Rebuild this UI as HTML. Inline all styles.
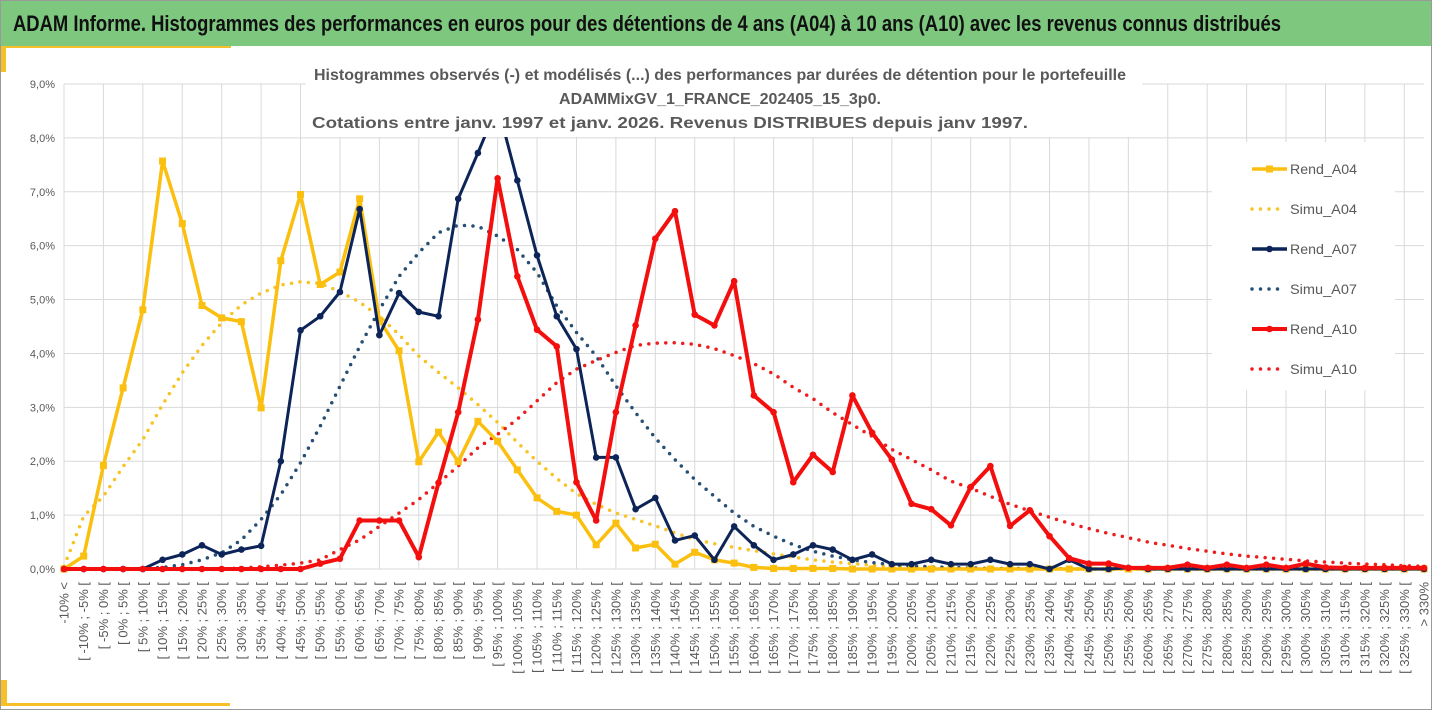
<!DOCTYPE html>
<html><head><meta charset="utf-8"><style>
html,body{margin:0;padding:0;background:#fff;}
svg{display:block;font-family:"Liberation Sans",sans-serif;}
</style></head><body>
<svg id="chart" width="1432" height="710" viewBox="0 0 1432 710" xmlns="http://www.w3.org/2000/svg">
<rect x="0.5" y="0.5" width="1431" height="709" fill="#fff" stroke="#9a9a9a"/>
<rect x="1" y="1" width="1430" height="45" fill="#7dc77f"/>
<text x="13" y="31" font-size="22" font-weight="bold" fill="#111" textLength="1268" lengthAdjust="spacingAndGlyphs">ADAM Informe. Histogrammes des performances en euros pour des détentions de 4 ans (A04) à 10 ans (A10) avec les revenus connus distribués</text>
<rect x="1" y="46" width="230" height="2" fill="#f5c02a"/>
<rect x="1" y="46" width="5" height="26" fill="#f5c02a"/>
<rect x="1" y="680" width="6" height="26" fill="#f5c02a"/>
<rect x="1" y="703" width="229" height="3" fill="#f5c02a"/>
<g id="grid"></g>
<g id="yaxis"></g>
<g id="xaxis"></g>
<g id="series"></g>
<g>
<rect x="306" y="60" width="836" height="77" fill="#fff"/>
<text x="720" y="80" font-size="16" font-weight="bold" fill="#595959" text-anchor="middle" textLength="812" lengthAdjust="spacingAndGlyphs">Histogrammes observés (-) et modélisés (...) des performances par durées de détention pour le portefeuille</text>
<text x="720" y="104" font-size="16" font-weight="bold" fill="#595959" text-anchor="middle" textLength="322" lengthAdjust="spacingAndGlyphs">ADAMMixGV_1_FRANCE_202405_15_3p0.</text>
<text x="670" y="128" font-size="16" font-weight="bold" fill="#595959" text-anchor="middle" textLength="716" lengthAdjust="spacingAndGlyphs">Cotations entre janv. 1997 et janv. 2026. Revenus DISTRIBUES depuis janv 1997.</text>
</g>
<g id="legend">
<rect x="1212" y="142" width="183" height="248" fill="#fff"/>
</g>
</svg>
<script>
const categoryStarts = [];
for (let s = -10; s <= 325; s += 5) categoryStarts.push(s);
const categories = ["-10% <"].concat(categoryStarts.map(s => "[ " + s + "% ; " + (s + 5) + "% [")).concat(["> 330%"]);
const yTicks = [0,1,2,3,4,5,6,7,8,9];
const yTickLabels = ["0,0%","1,0%","2,0%","3,0%","4,0%","5,0%","6,0%","7,0%","8,0%","9,0%"];

const rendA04 = [0,0.24,1.92,3.36,4.81,7.57,6.41,4.89,4.66,4.59,2.99,5.72,6.95,5.28,5.51,6.87,4.62,4.05,1.99,2.54,1.99,2.74,2.37,1.84,1.32,1.07,1.0,0.45,0.85,0.39,0.46,0.09,0.31,0.17,0.11,0.03,0.01,0.01,0.01,0.01,0,0,0,0,0,0,0,0,0,0,0,0,0,0,0,0,0,0,0,0,0,0,0,0,0,0,0,0,0,0];
const simuA04 = [0.05,0.98,1.35,1.9,2.4,3.05,3.64,4.15,4.57,4.9,5.12,5.27,5.33,5.3,5.15,4.95,4.69,4.35,3.95,3.65,3.36,3.05,2.72,2.35,2.0,1.68,1.4,1.2,1.04,0.92,0.8,0.67,0.55,0.47,0.4,0.34,0.28,0.22,0.17,0.13,0.1,0.07,0.05,0.04,0.03,0.02,0.01,0.01,0.01,0.01,0,0,0,0,0,0,0,0,0,0,0,0,0,0,0,0,0,0,0,0];
const rendA07 = [0,0,0,0,0,0.17,0.27,0.44,0.27,0.36,0.43,2.0,4.43,4.69,5.14,6.68,4.34,5.12,4.77,4.69,6.87,7.72,8.6,7.21,5.82,4.69,4.08,2.07,2.07,1.11,1.32,0.53,0.62,0.17,0.79,0.44,0.17,0.27,0.44,0.36,0.17,0.27,0.09,0.09,0.17,0.09,0.09,0.17,0.09,0.09,0.0,0.17,0.0,0.0,0.02,0,0,0,0,0,0,0,0,0,0,0,0,0,0,0];
const simuA07 = [0,0,0,0,0.01,0.03,0.08,0.17,0.3,0.54,0.92,1.38,1.97,2.65,3.39,4.13,4.81,5.43,5.87,6.24,6.38,6.36,6.18,5.93,5.5,4.88,4.39,3.95,3.4,2.9,2.43,2.03,1.66,1.35,1.04,0.79,0.61,0.45,0.33,0.24,0.17,0.12,0.08,0.06,0.04,0.03,0.02,0.01,0.01,0.01,0.01,0,0,0,0,0,0,0,0,0,0,0,0,0,0,0,0,0,0,0];
const rendA10 = [0,0,0,0,0,0,0,0,0,0,0,0,0,0.1,0.19,0.9,0.9,0.9,0.22,1.6,2.91,4.63,7.25,5.43,4.44,4.13,1.61,0.9,2.91,4.52,6.13,6.64,4.72,4.52,5.34,3.22,2.91,1.61,2.12,1.8,3.22,2.53,2.03,1.21,1.11,0.81,1.52,1.91,0.8,1.09,0.61,0.2,0.1,0.1,0.02,0.02,0.02,0.08,0.02,0.08,0.02,0.08,0.02,0.1,0.03,0.02,0.02,0.02,0.02,0.02];
const simuA10 = [0,0,0,0,0,0,0,0,0,0.02,0.04,0.07,0.11,0.17,0.36,0.54,0.79,1.04,1.29,1.6,1.91,2.25,2.5,2.78,3.12,3.46,3.71,3.87,4.02,4.15,4.19,4.2,4.17,4.09,3.96,3.81,3.62,3.37,3.16,2.9,2.68,2.46,2.22,2.03,1.84,1.63,1.5,1.35,1.2,1.08,0.96,0.85,0.75,0.66,0.58,0.5,0.44,0.38,0.33,0.28,0.24,0.21,0.18,0.15,0.13,0.11,0.09,0.08,0.06,0.05];

const NS = "http://www.w3.org/2000/svg";
const X0 = 64, X1 = 1424, Y0 = 569, YTOP = 84, YMAX = 9;
function xPos(i){ return X0 + i * (X1 - X0) / (categories.length - 1); }
function yPos(v){ return Y0 - v * (Y0 - YTOP) / YMAX; }
function mk(tag, attrs, parent){ const e = document.createElementNS(NS, tag); for (const k in attrs) e.setAttribute(k, attrs[k]); parent.appendChild(e); return e; }

const grid = document.getElementById('grid');
yTicks.forEach((t, i) => {
  const l = mk('line', {x1: X0, x2: X1, y1: yPos(t), y2: yPos(t), stroke: '#d9d9d9', 'stroke-width': 1}, grid);
  
  
});
categories.forEach((c, i) => {
  if (i % 2 !== 0) return;
  const l = mk('line', {x1: xPos(i), x2: xPos(i), y1: YTOP, y2: Y0, stroke: '#d9d9d9', 'stroke-width': 1}, grid);
  
  
});
const yaxis = document.getElementById('yaxis');
yTicks.forEach((t, i) => {
  const tx = mk('text', {x: 55, y: yPos(t) + 4, 'font-size': 11, fill: '#595959', 'text-anchor': 'end'}, yaxis);
  tx.textContent = yTickLabels[i];
  
  
});
const xaxis = document.getElementById('xaxis');
categories.forEach((c, i) => {
  const x = xPos(i) + 4.5, y = 582;
  const tx = mk('text', {x: x, y: y, 'font-size': 13, fill: '#595959', 'text-anchor': 'end', transform: 'rotate(-90 ' + x + ' ' + y + ')'}, xaxis);
  tx.textContent = c;
  
  
});

const seriesG = document.getElementById('series');
function pathOf(arr){ return arr.map((v, i) => (i ? 'L' : 'M') + xPos(i).toFixed(1) + ' ' + yPos(v).toFixed(1)).join(' '); }
function drawDotted(arr, color, name){
  const p = mk('path', {d: pathOf(arr), fill: 'none', stroke: color, 'stroke-width': 3.5, 'stroke-dasharray': '0 8.5', 'stroke-linecap': 'round'}, seriesG);
  
  
}
function drawSolid(arr, color, width, marker, name){
  const g = mk('g', {}, seriesG);
  
  
  const p = mk('path', {d: pathOf(arr), fill: 'none', stroke: color, 'stroke-width': width, 'stroke-linejoin': 'round'}, g);
  
  
  arr.forEach((v, i) => {
    let m;
    if (marker === 'square') m = mk('rect', {x: xPos(i) - 3.5, y: yPos(v) - 3.5, width: 7, height: 7, fill: color}, g);
    else m = mk('circle', {cx: xPos(i), cy: yPos(v), r: 3.3, fill: color}, g);
    
    
  });
}
drawDotted(simuA04, '#f7c325', 'simu-a04-line');
drawDotted(simuA07, '#264f73', 'simu-a07-line');
drawDotted(simuA10, '#ee1c1c', 'simu-a10-line');
drawSolid(rendA04, '#fbbf0f', 3.5, 'square', 'rend-a04');
drawSolid(rendA07, '#0c2458', 3, 'circle', 'rend-a07');
drawSolid(rendA10, '#f40f0f', 4, 'circle', 'rend-a10');

const legendEntries = ["Rend_A04","Simu_A04","Rend_A07","Simu_A07","Rend_A10","Simu_A10"];
const legendColors = ["#fbbf0f","#f7c325","#0c2458","#264f73","#f40f0f","#ee1c1c"];
const legend = document.getElementById('legend');
legendEntries.forEach((name, i) => {
  const y = 169 + i * 40;
  const g = mk('g', {}, legend);
  
  
  if (i % 2 === 0) {
    mk('line', {x1: 1252, x2: 1287, y1: y, y2: y, stroke: legendColors[i], 'stroke-width': i === 4 ? 4 : 3.5}, g);
    if (i === 0) mk('rect', {x: 1266, y: y - 3.5, width: 7, height: 7, fill: legendColors[i]}, g);
    else mk('circle', {cx: 1269.5, cy: y, r: 3.3, fill: legendColors[i]}, g);
  } else {
    mk('line', {x1: 1252, x2: 1282, y1: y, y2: y, stroke: legendColors[i], 'stroke-width': 3.5, 'stroke-dasharray': '0 8.5', 'stroke-linecap': 'round'}, g);
  }
  const t = mk('text', {x: 1290, y: y + 5, 'font-size': 14, fill: '#595959', textLength: 67, lengthAdjust: 'spacingAndGlyphs'}, g);
  t.textContent = name;
});
</script>
</body></html>
